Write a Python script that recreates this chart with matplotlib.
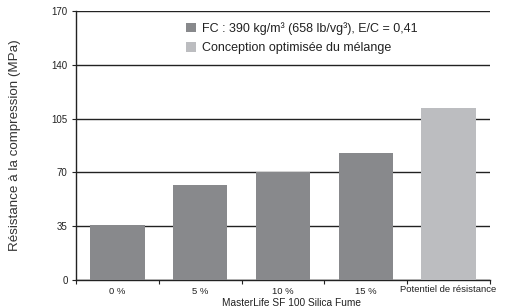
import numpy as np
import matplotlib
matplotlib.use("Agg")
import matplotlib.pyplot as plt

plt.rcParams['font.family'] = ['Liberation Sans', 'DejaVu Sans']

# données
categories = ['0 %', '5 %', '10 %', '15 %', 'Potentiel de résistance']
fc_values = [36, 62, 70, 82.5]
opt_value = [112]
yticks = [0, 35, 70, 105, 140, 175]
ytick_labels = ['0', '35', '70', '105', '140', '170']

dark = '#88898c'
light = '#bcbdc0'

fig = plt.figure(figsize=(5.12, 3.08), dpi=100)
ax = fig.add_axes([76/512, 28/308, 414/512, 269/308])

x = np.arange(len(categories))
ax.bar(x[:4], fc_values, width=0.655, color=dark, zorder=3,
       label='FC : 390 kg/m³ (658 lb/vg³), E/C = 0,41')
ax.bar(x[4:], opt_value, width=0.655, color=light, zorder=3,
       label='Conception optimisée du mélange')

ax.set_xlim(-0.5, 4.5)
ax.set_ylim(0, 175)
ax.set_yticks(yticks)
ax.set_yticklabels(ytick_labels, fontsize=7, color='#222222')
ax.yaxis.grid(True, color='#222222', linewidth=1.0, zorder=0)
ax.tick_params(axis='y', length=3, width=0.8, color='#222222', pad=3)

# ticks entre les catégories
ax.set_xticks(np.arange(-0.5, 4.6, 1.0))
ax.set_xticklabels([])
ax.tick_params(axis='x', length=3, width=0.8, color='#222222', direction='out')
for i, c in enumerate(categories):
    yoff = -0.043 if i < 4 else -0.035
    ax.text(i, yoff, c, transform=ax.get_xaxis_transform(), ha='center', va='center',
            fontsize=6.8, color='#222222')
fig.text(291/512, 1 - 303.5/308, 'MasterLife SF 100 Silica Fume', ha='center', va='center',
         fontsize=7.3, color='#222222')

for s in ['right', 'top']:
    ax.spines[s].set_visible(False)
ax.spines['left'].set_color('#222222')
ax.spines['bottom'].set_color('#222222')
ax.spines['left'].set_linewidth(1.0)
ax.spines['bottom'].set_linewidth(1.0)

fig.text(15/512, 1 - 145/308, 'Résistance à la compression (MPa)', rotation=90,
         ha='center', va='center', fontsize=9.6, color='#333333')

leg = ax.legend(loc='upper left', bbox_to_anchor=(186/512, 1 - 22/308),
                bbox_transform=fig.transFigure, frameon=False, fontsize=9,
                handlelength=0.8, handleheight=0.8, handletextpad=0.5,
                labelspacing=0.6, borderaxespad=0, borderpad=0)
for t in leg.get_texts():
    t.set_color('#222222')

fig.savefig('out.png', dpi=100)
